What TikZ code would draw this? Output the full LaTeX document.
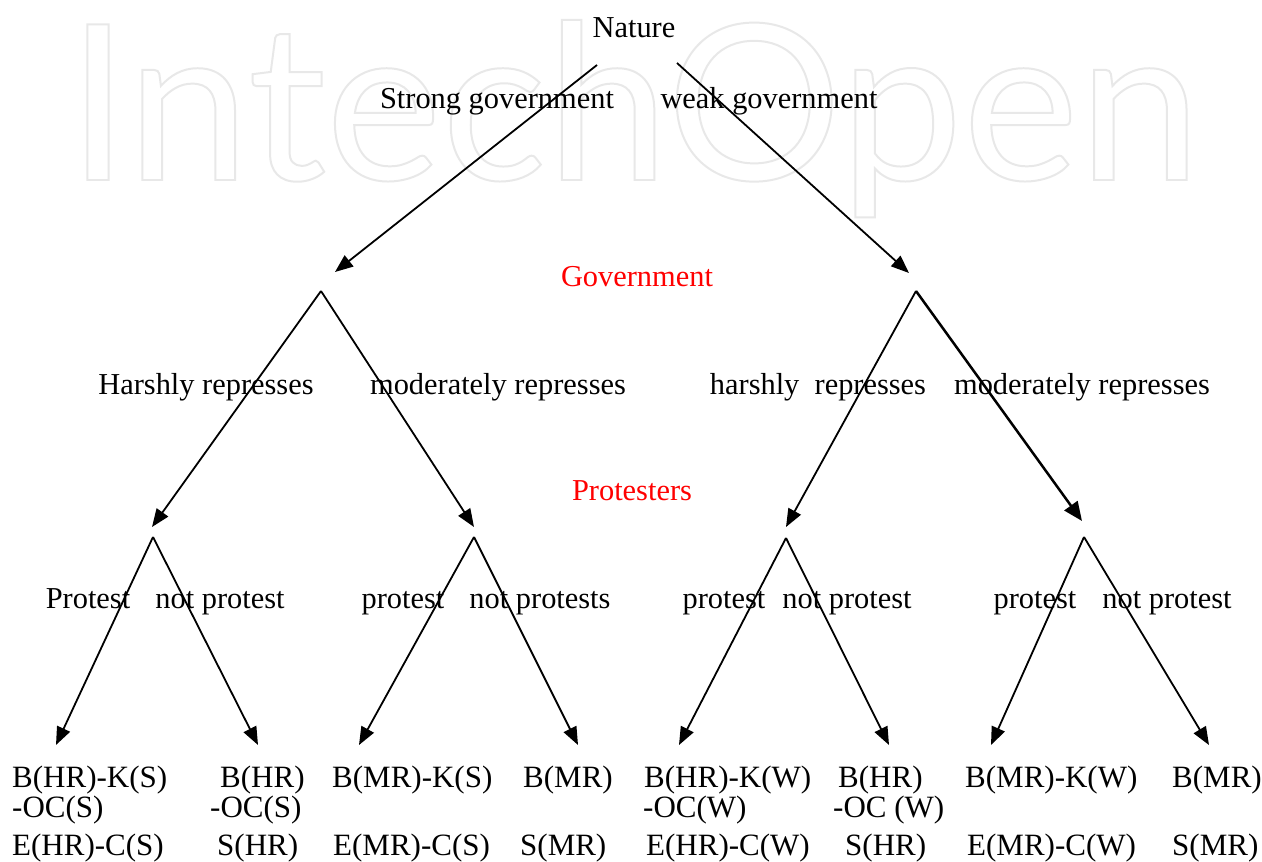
\documentclass[tikz,border=0pt]{standalone}
\usepackage{fontspec}
\setmainfont{Liberation Serif}
\newfontfamily\wmfont{Lato}
\usetikzlibrary{arrows.meta}
\definecolor{wmgray}{RGB}{232,232,232}
\definecolor{redlab}{RGB}{255,0,0}
\tikzset{
  x=1pt, y=-1pt,
  lab/.style={font=\fontsize{30.4}{36}\selectfont, anchor=base, inner sep=0pt},
  leaf/.style={font=\fontsize{31}{36}\selectfont, anchor=base west, inner sep=0pt},
  redtext/.style={lab, text=redlab},
  arr/.style={line width=1.8pt, -{Triangle[length=18pt,width=14pt]}},
  arrbold/.style={line width=2.5pt, -{Triangle[length=19pt,width=16pt]}},
}
\begin{document}
\begin{tikzpicture}
\useasboundingbox (0,0) rectangle (1262,862);
\fill[white] (0,0) rectangle (1262,862);
% watermark
\node[anchor=base west, inner sep=0pt] (wm) at (67,180)
  {\resizebox{1133pt}{160pt}{\wmfont\fontsize{220}{220}\selectfont\color{wmgray}\special{pdf:literal direct 1 Tr 2 w}IntechOpen\special{pdf:literal direct 0 Tr}}};

% titles
\node[lab] (nature) at (634,37) {Nature};
\node[lab] (strong) at (497,108) {Strong government};
\node[lab] (weak) at (769,108) {weak government};
\node[redtext] (govlab) at (637,286) {Government};
\node[redtext] (protlab) at (632,500) {Protesters};

\node[lab] (hr1) at (206,394) {Harshly represses};
\node[lab] (mr1) at (498,394) {moderately represses};
\node[lab] (hr2) at (818,394) {harshly\ \ represses};
\node[lab] (mr2) at (1082,394) {moderately represses};

\node[lab] (p1) at (88,608) {Protest};
\node[lab] (np1) at (220,608) {not protest};
\node[lab] (p2) at (403,608) {protest};
\node[lab] (np2) at (540,608) {not protests};
\node[lab] (p3) at (724,608) {protest};
\node[lab] (np3) at (847,608) {not protest};
\node[lab] (p4) at (1035,608) {protest};
\node[lab] (np4) at (1167,608) {not protest};

% coordinates
\coordinate (nL) at (597,65);
\coordinate (nR) at (677,63);
\coordinate (tG1) at (335,272);
\coordinate (tG2) at (909,273);
\coordinate (G1) at (321,291);
\coordinate (G2) at (916,291);
\coordinate (tP1) at (152,527);
\coordinate (tP2) at (474,527);
\coordinate (tP3) at (786,527);
\coordinate (tP4) at (1082,521);
\coordinate (P1) at (153,537);
\coordinate (P2) at (474,537);
\coordinate (P3) at (786,538);
\coordinate (P4) at (1084,537);
\coordinate (L1) at (56,745);
\coordinate (L2) at (258,745);
\coordinate (L3) at (359,745);
\coordinate (L4) at (578,745);
\coordinate (L5) at (679,745);
\coordinate (L6) at (889,745);
\coordinate (L7) at (991,745);
\coordinate (L8) at (1209,745);

% arrows
\draw[arr] (nL) -- (tG1);
\draw[arr] (nR) -- (tG2);
\draw[arr] (G1) -- (tP1);
\draw[arr] (G1) -- (tP2);
\draw[arr] (G2) -- (tP3);
\draw[arrbold] (G2) -- (tP4);
\draw[arr] (P1) -- (L1);
\draw[arr] (P1) -- (L2);
\draw[arr] (P2) -- (L3);
\draw[arr] (P2) -- (L4);
\draw[arr] (P3) -- (L5);
\draw[arr] (P3) -- (L6);
\draw[arr] (P4) -- (L7);
\draw[arr] (P4) -- (L8);

% leaves
\node[leaf] (a1) at (12,787) {B(HR)-K(S)};
\node[leaf] (a2) at (12,817) {-OC(S)};
\node[leaf] (a3) at (12,855) {E(HR)-C(S)};
\node[leaf] (b1) at (220,787) {B(HR)};
\node[leaf] (b2) at (210,817) {-OC(S)};
\node[leaf] (b3) at (217,855) {S(HR)};
\node[leaf] (c1) at (332,787) {B(MR)-K(S)};
\node[leaf] (c3) at (333,855) {E(MR)-C(S)};
\node[leaf] (d1) at (523,787) {B(MR)};
\node[leaf] (d3) at (520,855) {S(MR)};
\node[leaf] (e1) at (644,787) {B(HR)-K(W)};
\node[leaf] (e2) at (643,817) {-OC(W)};
\node[leaf] (e3) at (646,855) {E(HR)-C(W)};
\node[leaf] (f1) at (838,787) {B(HR)};
\node[leaf] (f2) at (833,817) {-OC (W)};
\node[leaf] (f3) at (845,855) {S(HR)};
\node[leaf] (g1) at (965,787) {B(MR)-K(W)};
\node[leaf] (g3) at (967,855) {E(MR)-C(W)};
\node[leaf] (h1) at (1172,787) {B(MR)};
\node[leaf] (h3) at (1172,855) {S(MR)};
\end{tikzpicture}
\end{document}
